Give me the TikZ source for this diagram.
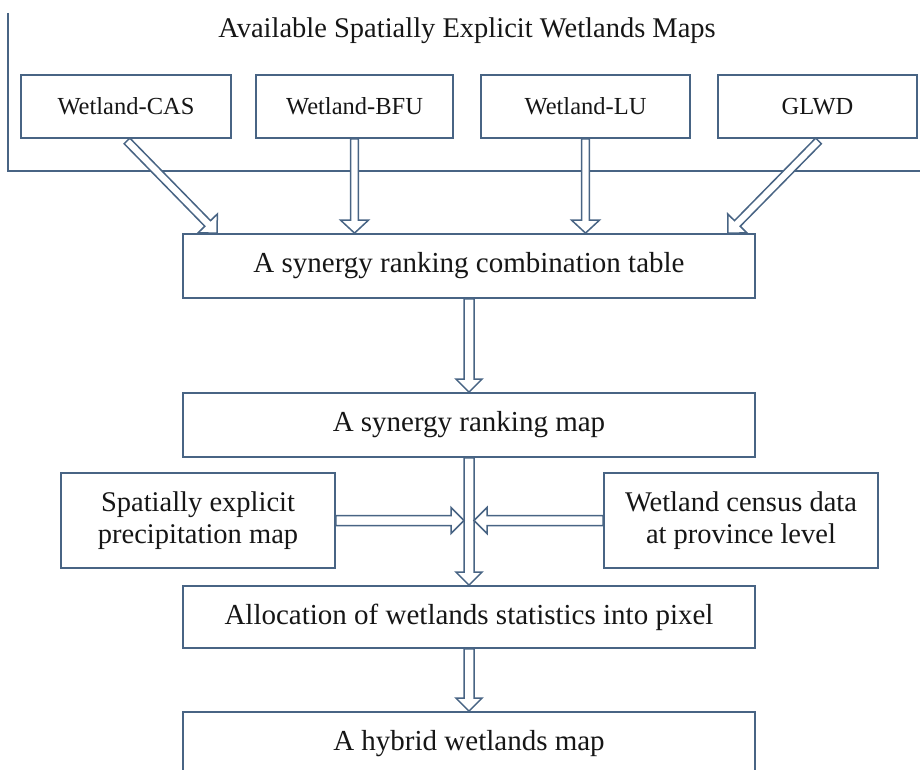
\documentclass[tikz,border=0pt]{standalone}
\usepackage{fontspec}
\setmainfont{Liberation Serif}
\usetikzlibrary{calc}
\definecolor{lc}{RGB}{72,100,132}
\definecolor{tc}{RGB}{22,22,22}
\pgfdeclarelayer{bg}
\pgfsetlayers{bg,main}
\newcommand\hollowarrow[5]{% start, end, shaft half width, head half width, head length
  \coordinate (hb) at ($(#2)!#5!(#1)$);
  \draw[arr] ($(#1)!#3!90:(#2)$) -- ($(hb)!#3!90:(#2)$) -- ($(hb)!#4!90:(#2)$) -- (#2)
    -- ($(hb)!#4!-90:(#2)$) -- ($(hb)!#3!-90:(#2)$) -- ($(#1)!#3!-90:(#2)$) -- cycle;
}
\begin{document}
\begin{tikzpicture}[x=1pt,y=-1pt,
  box/.style={draw=lc, line width=1.8pt, fill=white, inner sep=0pt, text=tc, align=center,
              font=\fontsize{29}{32}\selectfont},
  topbox/.style={box, font=\fontsize{24.5}{28}\selectfont, minimum height=63pt},
  twobox/.style={box, font=\fontsize{28.5}{31.5}\selectfont, minimum width=274pt, minimum height=95pt},
  midbox/.style={box, minimum width=572pt},
  arr/.style={draw=lc, line width=1.5pt, fill=white, line join=miter},
  frame/.style={draw=lc, line width=1.8pt}]
\useasboundingbox (0,0) rectangle (920,770);

% title
\node[font=\fontsize{28.5}{32}\selectfont, text=tc, anchor=base, inner sep=0pt] (title) at (467,38)
  {Available Spatially Explicit Wetlands Maps};

% top boxes
\node[topbox, minimum width=210pt] (cas)  at (126,106.5)   {Wetland-CAS};
\node[topbox, minimum width=197pt] (bfu)  at (354.5,106.5) {Wetland-BFU};
\node[topbox, minimum width=209pt] (lu)   at (585.5,106.5) {Wetland-LU};
\node[topbox, minimum width=199pt] (glwd) at (817.5,106.5) {GLWD};

% main chain
\node[midbox, minimum height=64pt] (combo)   at (469,266) {A synergy ranking combination table};
\node[midbox, minimum height=64pt] (rankmap) at (469,425) {A synergy ranking map};
\node[twobox] (precip) at (198,520.5) {Spatially explicit\\precipitation map};
\node[twobox] (census) at (741,520.5) {Wetland census data\\at province level};
\node[midbox, minimum height=62pt] (alloc)  at (469,617) {Allocation of wetlands statistics into pixel};
\node[midbox, minimum height=64pt] (hybrid) at (469,744) {A hybrid wetlands map};

\begin{pgfonlayer}{bg}
  % frame
  \coordinate (fTL) at (8,13);
  \coordinate (fBR) at (925,171);
  \draw[frame] (fTL) |- (fBR);

  % top arrows
  \coordinate (casS)  at ($(cas.south)+(1,2)$);
  \coordinate (casT)  at ($(combo.north west)+(35,0)$);
  \coordinate (glwdS) at ($(glwd.south)+(1,2)$);
  \coordinate (glwdT) at ($(combo.north east)+(-28,0)$);
  \coordinate (bfuT)  at (combo.north -| bfu.south);
  \coordinate (luT)   at (combo.north -| lu.south);
  \hollowarrow{casS}{casT}{4pt}{13.5pt}{13.5pt}
  \hollowarrow{bfu.south}{bfuT}{3.8pt}{14pt}{13pt}
  \hollowarrow{lu.south}{luT}{3.8pt}{14pt}{13pt}
  \hollowarrow{glwdS}{glwdT}{4pt}{13.5pt}{13.5pt}

  % chain arrows
  \hollowarrow{combo.south}{rankmap.north}{5pt}{13pt}{13pt}
  \hollowarrow{rankmap.south}{alloc.north}{5pt}{13pt}{13pt}
  \hollowarrow{alloc.south}{hybrid.north}{5pt}{13pt}{13pt}

  % side arrows
  \coordinate (pT) at ($(rankmap.south |- precip.east)+(-5,0)$);
  \coordinate (cT) at ($(rankmap.south |- census.west)+(5,0)$);
  \hollowarrow{precip.east}{pT}{5pt}{13pt}{13pt}
  \hollowarrow{census.west}{cT}{5pt}{13pt}{13pt}
\end{pgfonlayer}
\end{tikzpicture}
\end{document}
